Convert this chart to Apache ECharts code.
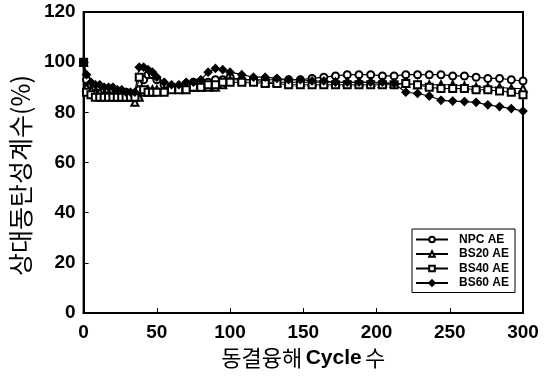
<!DOCTYPE html>
<html>
<head>
<meta charset="utf-8">
<script src="https://cdn.jsdelivr.net/npm/echarts@6/dist/echarts.min.js"></script>
<style>
  html, body { margin: 0; padding: 0; background: #fff; }
  #chart { width: 552px; height: 378px; }
</style>
</head>
<body>
<div id="chart"></div>
<script>
// 동결융해 사이클 (x)
var cycles = [0, 2, 5, 8, 11, 14, 17, 20, 23, 26, 29, 32, 35, 38, 41, 44, 47, 50, 55, 60,
    65, 70, 75, 80, 85, 90, 95, 100, 108, 116, 124, 132, 140, 148, 156, 164, 172, 180,
    188, 196, 204, 212, 220, 228, 236, 244, 252, 260, 268, 276, 284, 292, 300]

// 상대동탄성계수 (%)
var npcAE = [100, 93, 91, 90, 90, 89, 89, 89, 88, 88, 88, 87, 87, 89, 93, 95, 95, 93, 91, 90,
    90, 91, 92, 92, 92, 93, 93, 94, 93, 93, 93, 93, 93, 93, 93.5, 94, 94.5, 95,
    95, 95, 94.5, 94.5, 95, 95, 95, 95, 94.5, 94.5, 94, 93.5, 93.5, 93, 92.5]
var bs20AE = [100, 90, 89, 88, 88, 87, 87, 87, 87, 86, 86, 86, 84, 86, 88, 89, 89, 89, 89, 90,
    90, 90, 90, 90, 90, 90, 91, 93, 93, 93, 92, 92, 92, 92, 92, 92, 92, 92,
    92, 92, 91.5, 91.5, 91.5, 91, 91, 91, 91, 90.5, 90, 90, 90, 89.5, 89.5]
var bs40AE = [100, 88, 87, 86, 86, 86, 86, 86, 86, 86, 86, 86, 86, 94, 89, 88, 88, 88, 88, 89,
    89, 89, 90, 90, 91, 91, 92, 92, 92, 92, 91.5, 91.5, 91, 91, 91, 91, 91, 91,
    91, 91, 91, 91, 91.5, 91, 90, 89.5, 89.5, 89.5, 89, 89, 88.5, 88, 87]
var bs60AE = [100, 95, 92, 91, 91, 90, 90, 90, 89, 89, 88, 88, 88, 98, 98, 97, 96, 94, 92, 91,
    91, 92, 92, 93, 96, 97.5, 97, 96, 95, 94, 94, 93.5, 93, 93, 92.5, 92.5, 92, 92,
    92, 92, 92, 91.5, 88, 87.5, 86.5, 84.8, 84.5, 84.3, 84, 83, 82.3, 81.5, 80.5]

var seriesNames = ['NPC AE', 'BS20 AE', 'BS40 AE', 'BS60 AE']
var seriesSymbols = ['emptyCircle', 'emptyTriangle', 'emptyRect', 'diamond']

function toPairs(values) {
    return cycles.map(function (c, i) { return [c, values[i]] })
}

var chart = echarts.init(document.getElementById('chart'))

var valueSets = [npcAE, bs20AE, bs40AE, bs60AE]
var series = valueSets.map(function (vals, i) {
    return {
        name: seriesNames[i],
        type: 'line',
        data: toPairs(vals),
        symbol: seriesSymbols[i],
        symbolSize: i === 3 ? 8 : 7,
        showAllSymbol: true,
        animation: false,
        lineStyle: { color: '#000', width: 1.2 },
        itemStyle: { color: '#000', borderColor: '#000', borderWidth: 1.2 }
    }
})

var option = {
    backgroundColor: '#fff',
    animation: false,
    textStyle: { fontFamily: 'Liberation Sans' },
    grid: {
        left: 80, right: 29, top: 12, bottom: 65,
        show: true, borderColor: '#000', borderWidth: 2, backgroundColor: 'transparent'
    },
    legend: {
        data: seriesNames,
        orient: 'vertical',
        left: 412,
        top: 229,
        padding: [4, 6, 3, 3],
        itemWidth: 32,
        itemHeight: 7,
        itemGap: 1.5,
        borderColor: '#000',
        borderWidth: 1,
        backgroundColor: '#fff',
        textStyle: {
            fontFamily: 'Liberation Sans', fontWeight: 'bold', fontSize: 12, lineHeight: 13,
            color: '#000', padding: [0, 0, 0, 6]
        }
    },
    xAxis: {
        type: 'value',
        min: 0, max: 300, interval: 50,
        name: '{k|동결융해} {b|Cycle} {k|수}',
        nameLocation: 'middle',
        nameGap: 34,
        nameTextStyle: {
            rich: {
                k: { fontFamily: 'Noto Sans CJK KR', fontSize: 22, color: '#000' },
                b: { fontFamily: 'Liberation Sans', fontWeight: 'bold', fontSize: 21, color: '#000' }
            }
        },
        axisLine: { lineStyle: { color: '#000', width: 2 } },
        axisTick: { inside: true, length: 5, lineStyle: { color: '#000', width: 1 } },
        axisLabel: { color: '#000', fontWeight: 'bold', fontSize: 19, margin: 10, fontFamily: 'Liberation Sans' },
        splitLine: { show: false }
    },
    yAxis: {
        type: 'value',
        min: 0, max: 120, interval: 20,
        name: '상대동탄성계수(%)',
        nameLocation: 'middle',
        nameGap: 40,
        nameRotate: 90,
        nameTextStyle: { fontFamily: 'Noto Sans CJK KR', fontSize: 25, color: '#000', padding: [0, 26, 0, 0] },
        axisLine: { lineStyle: { color: '#000', width: 2 } },
        axisTick: { inside: true, length: 5, lineStyle: { color: '#000', width: 1 } },
        axisLabel: { color: '#000', fontWeight: 'bold', fontSize: 19, margin: 8, fontFamily: 'Liberation Sans' },
        splitLine: { show: false }
    },
    series: series
}

chart.setOption(option)
</script>
</body>
</html>
